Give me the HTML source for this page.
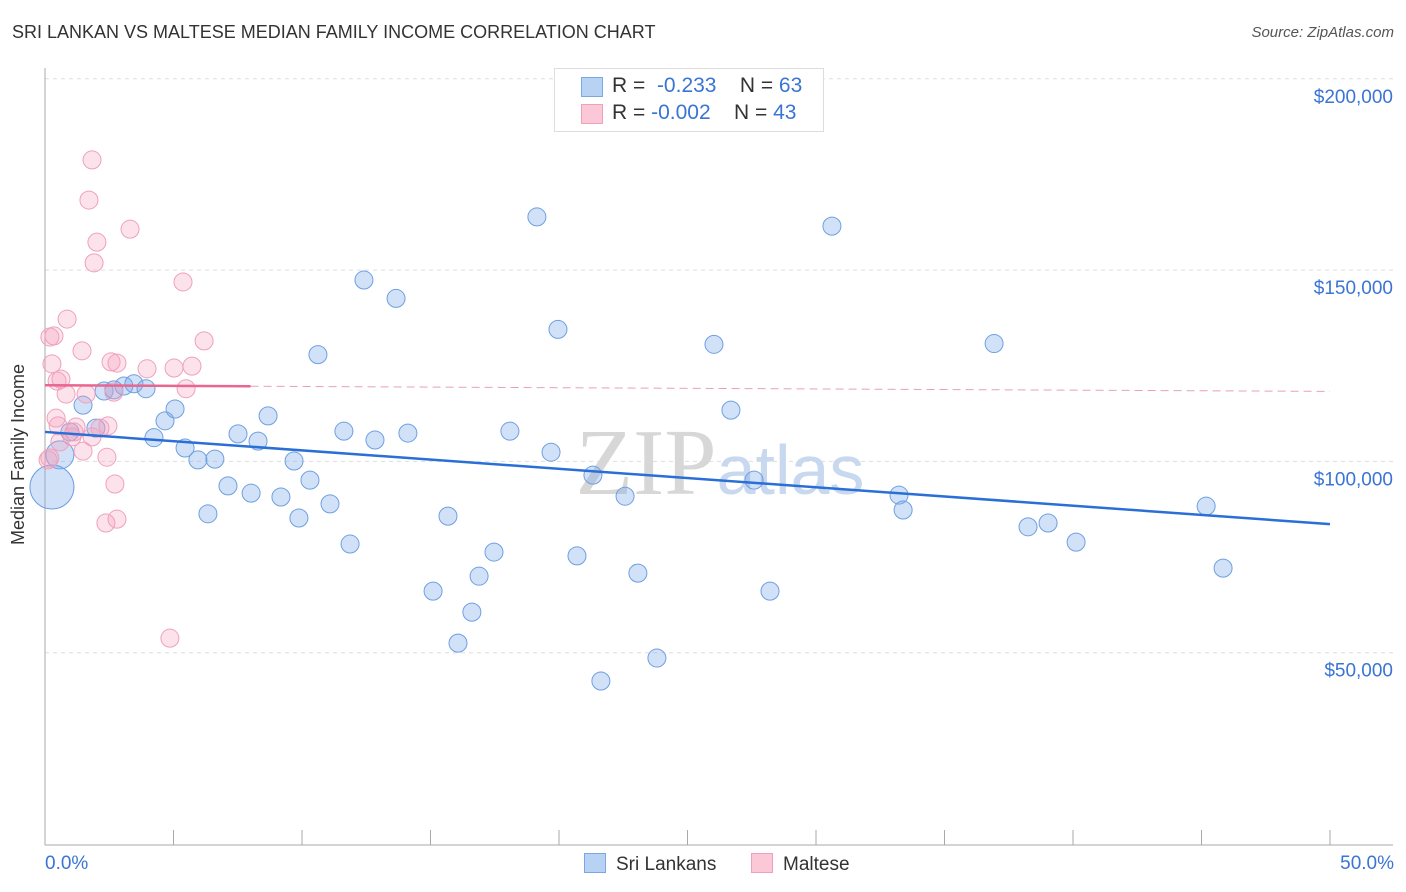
<!DOCTYPE html>
<html><head><meta charset="utf-8"><style>
body{margin:0;background:#fff;font-family:"Liberation Sans",sans-serif;}
#wrap{position:relative;width:1406px;height:892px;overflow:hidden;}
.t{position:absolute;white-space:nowrap;}
</style></head><body>
<div id="wrap">
<div class="t" style="left:12px;top:22px;font-size:18px;color:#333;">SRI LANKAN VS MALTESE MEDIAN FAMILY INCOME CORRELATION CHART</div>
<div class="t" style="right:12px;top:24px;font-size:15px;color:#555;font-style:italic;">Source: ZipAtlas.com</div>
<svg id="svg" width="1406" height="892" style="position:absolute;left:0;top:0"></svg>
</div>
<script>
const blueX=[19.14,30.62,12.41,13.66,19.96,10.62,26.03,36.93,26.69,1.48,5.06,4.67,8.68,2.30,2.68,3.07,3.46,3.93,4.24,5.45,7.51,8.29,11.63,12.84,14.12,18.09,19.69,21.32,22.57,27.59,33.23,33.39,45.18,38.25,39.03,40.12,45.84,5.95,6.61,9.69,10.31,7.12,8.02,9.18,6.34,9.88,11.09,15.68,11.87,17.47,20.70,16.89,23.07,15.10,28.21,16.61,16.07,23.81,21.63,0.97,1.98,0.58,0.27];
const blueY=[163.9,161.5,147.4,142.6,134.5,127.9,130.6,130.8,113.4,114.7,113.7,110.6,111.9,118.4,118.7,119.7,120.3,119.0,106.2,103.5,107.2,105.3,107.9,105.6,107.4,107.9,102.4,96.4,90.9,95.1,91.2,87.3,88.3,82.9,83.9,78.9,72.1,100.4,100.6,100.1,95.1,93.6,91.7,90.7,86.3,85.2,88.9,85.7,78.4,76.3,75.3,70.0,70.8,66.1,66.1,60.6,52.5,48.6,42.6,107.7,108.7,101.7,93.3];
const pinkX=[1.83,1.71,3.31,2.02,1.91,5.37,0.86,0.35,0.19,6.19,1.44,2.57,2.80,0.27,3.97,5.02,5.72,0.62,0.47,0.82,1.60,2.68,5.49,0.43,0.51,1.21,1.13,2.14,2.45,1.83,1.05,1.48,2.41,0.12,2.72,2.80,2.37,4.86,0.58,0.19];
const pinkY=[178.8,168.3,160.7,157.3,151.9,146.9,137.2,132.8,132.5,131.5,128.9,126.0,125.7,125.5,124.2,124.4,124.9,121.5,121.0,117.6,117.6,118.1,119.0,111.3,109.3,109.0,107.7,108.7,109.3,106.4,106.4,102.7,101.1,100.4,94.1,84.9,83.9,53.8,105.1,100.9];
const yTicks=[50,100,150,200];
const yTickLabels=["$50,000","$100,000","$150,000","$200,000"];
const blueTrend=[107.7,83.6];
const pinkTrend=[119.9,118.3];
const pinkSolidEnd=8;

const X=p=>45+p*25.7, Y=v=>844-v*3.826;
const svg=document.getElementById('svg');const NS='http://www.w3.org/2000/svg';
function mk(t,a,name){const e=document.createElementNS(NS,t);for(const k in a)e.setAttribute(k,a[k]);


svg.appendChild(e);return e;}
yTicks.forEach((v,i)=>{mk('line',{x1:45,x2:1393,y1:Y(v),y2:Y(v),stroke:'#ddd','stroke-dasharray':'4,4'},'gridline');
const t=mk('text',{x:1393,y:Y(v)+24,'text-anchor':'end','font-size':19,fill:'#3a74d4'},'y-tick-label');t.textContent=yTickLabels[i];});
mk('line',{x1:45,x2:45,y1:68,y2:845,stroke:'#aaa'},'y-axis');
mk('line',{x1:45,x2:1393,y1:845,y2:845,stroke:'#aaa'},'x-axis');
for(let i=0;i<=10;i++)mk('line',{x1:X(i*5),x2:X(i*5),y1:830,y2:845,stroke:'#aaa'},'x-tick');
const wm=mk('text',{x:720,y:494,'text-anchor':'middle','font-size':94,fill:'#d7d7d7','font-family':'Liberation Serif'},'watermark');wm.innerHTML='ZIP<tspan font-family="Liberation Sans" font-size="70" fill="#c8d8ee">atlas</tspan>';
blueX.forEach((x,i)=>{const r=i==61?14:i==62?22:9;mk('circle',{cx:X(x),cy:Y(blueY[i]),r:r,fill:'rgba(120,170,235,0.35)',stroke:'#6fa0e0','stroke-width':1},'sri-lankan-point');});
pinkX.forEach((x,i)=>{mk('circle',{cx:X(x),cy:Y(pinkY[i]),r:9,fill:'rgba(245,160,190,0.3)',stroke:'#f0a0bc','stroke-width':1},'maltese-point');});
mk('line',{x1:X(0),x2:X(50),y1:Y(blueTrend[0]),y2:Y(blueTrend[1]),stroke:'#2a6fd6','stroke-width':2.5},'sri-lankan-trendline');
const pm=v=>pinkTrend[0]+(pinkTrend[1]-pinkTrend[0])*v/50;
mk('line',{x1:X(0),x2:X(pinkSolidEnd),y1:Y(pinkTrend[0]),y2:Y(pm(pinkSolidEnd)),stroke:'#e8668f','stroke-width':2.5},'maltese-trendline');
mk('line',{x1:X(pinkSolidEnd),x2:X(50),y1:Y(pm(pinkSolidEnd)),y2:Y(pinkTrend[1]),stroke:'#e8a0b8','stroke-width':1,'stroke-dasharray':'8,5'},'maltese-trendline-dashed');
</script>
<div class="t" style="left:-72px;top:444px;font-size:18px;color:#333;transform:rotate(-90deg);">Median Family Income</div>
<div class="t" style="left:45px;top:853px;font-size:19px;color:#3a74d4;">0.0%</div>
<div class="t" style="right:12px;top:853px;font-size:19px;color:#3a74d4;">50.0%</div>
<div style="position:absolute;left:554px;top:68px;width:268px;height:62px;border:1px solid #ddd;background:#fff;font-size:21px;color:#333;">
<div style="position:absolute;left:26px;top:8px;width:20px;height:18px;background:#b8d2f4;border:1px solid #7aa8e4;"></div>
<div class="t" style="left:57px;top:5px;">R = &nbsp;<span style="color:#3a74d4">-0.233</span>&nbsp;&nbsp;&nbsp; N = <span style="color:#3a74d4">63</span></div>
<div style="position:absolute;left:26px;top:35px;width:20px;height:18px;background:#fbc8d8;border:1px solid #f0a0bc;"></div>
<div class="t" style="left:57px;top:32px;">R = <span style="color:#3a74d4">-0.002</span>&nbsp;&nbsp;&nbsp; N = <span style="color:#3a74d4">43</span></div>
</div>
<div style="position:absolute;left:584px;top:853px;font-size:19px;color:#333;">
<span style="display:inline-block;width:20px;height:18px;background:#b8d2f4;border:1px solid #7aa8e4;vertical-align:-3px;margin-right:10px;"></span>Sri Lankans</div>
<div style="position:absolute;left:751px;top:853px;font-size:19px;color:#333;">
<span style="display:inline-block;width:20px;height:18px;background:#fbc8d8;border:1px solid #f0a0bc;vertical-align:-3px;margin-right:10px;"></span>Maltese</div>
</body></html>
